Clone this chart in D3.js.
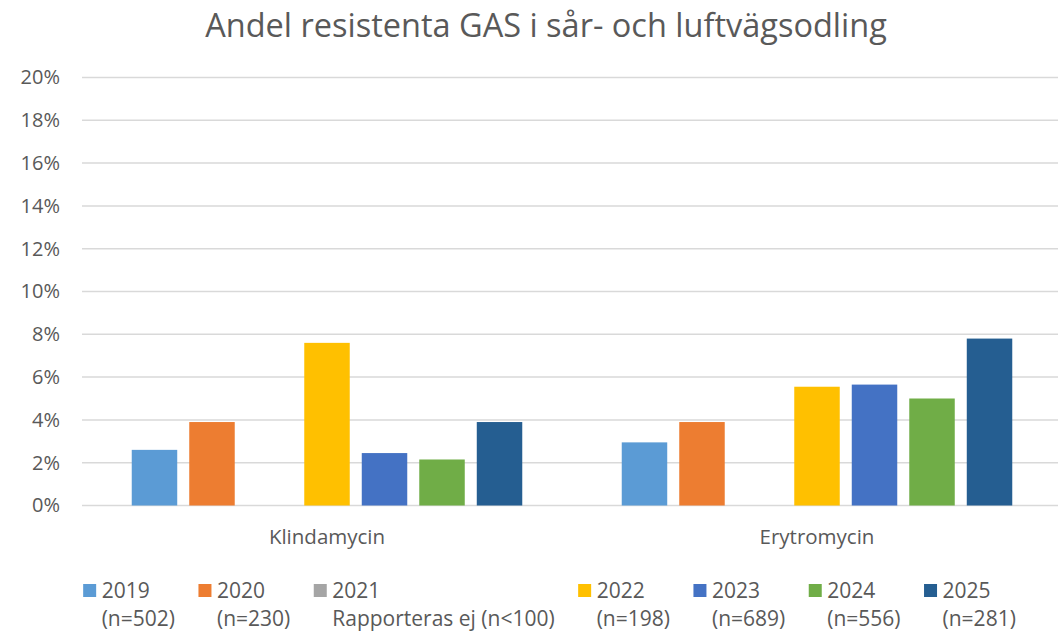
<!DOCTYPE html>
<html>
<head>
<meta charset="utf-8">
<script src="https://cdn.jsdelivr.net/npm/d3@7"></script>
<style>
  body { margin: 0; background: #fff; }
  svg text { font-family: 'Open Sans', sans-serif; fill: #595959; }
</style>
</head>
<body>
<svg id="chart" width="1058" height="635"></svg>
<script>
'use strict'

// Data
var title = 'Andel resistenta GAS i sår- och luftvägsodling'
var categories = ['Klindamycin', 'Erytromycin']
var years = ['2019', '2020', '2021', '2022', '2023', '2024', '2025']
var yearNotes = ['(n=502)', '(n=230)', 'Rapporteras ej (n<100)', '(n=198)', '(n=689)', '(n=556)', '(n=281)']
var klindamycin = [2.6, 3.9, null, 7.6, 2.45, 2.15, 3.9]
var erytromycin = [2.95, 3.9, null, 5.55, 5.65, 5.0, 7.8]
var yTicks = [0, 2, 4, 6, 8, 10, 12, 14, 16, 18, 20]
var colors = ['#5B9BD5', '#ED7D31', '#A5A5A5', '#FFC000', '#4472C4', '#70AD47', '#255E91']

var seriesByCategory = [klindamycin, erytromycin]

var svg = d3.select('#chart')
var plotLeft = 82
var plotRight = 1062
var plotTop = 77.5
var plotBottom = 505.5

var x0 = d3.scaleBand()
  .domain(categories)
  .range([plotLeft, plotRight])

var x1 = d3.scaleBand()
  .domain(years)
  .range([0, x0.bandwidth()])
  .paddingInner(0.209)
  .paddingOuter(0.865)

var y = d3.scaleLinear()
  .domain([0, 20])
  .range([plotBottom, plotTop])

var color = d3.scaleOrdinal().domain(years).range(colors)

// Title
svg.append('text')
  .attr('x', 546)
  .attr('y', 37)
  .attr('text-anchor', 'middle')
  .style('font-size', '32.5px')
  .text(title)

// Gridlines
svg.append('g')
  .selectAll('line')
  .data(yTicks)
  .enter().append('line')
    .attr('x1', plotLeft)
    .attr('x2', plotRight)
    .attr('y1', (d) => y(d))
    .attr('y2', (d) => y(d))
    .attr('stroke', '#D9D9D9')
    .attr('stroke-width', 1.5)

// Y axis labels
var yAxis = svg.append('g')
  .attr('transform', 'translate(' + 60 + ',0)')
  .call(d3.axisLeft(y).tickValues(yTicks).tickSize(0).tickPadding(0).tickFormat((d) => d + '%'))
yAxis.select('.domain').remove()
yAxis.selectAll('text')
  .style('font-size', '20px')
  .attr('fill', '#595959')

// Bars
var groups = svg.append('g')
  .selectAll('g')
  .data(categories)
  .enter().append('g')
    .attr('transform', (d) => 'translate(' + x0(d) + ',0)')

groups.selectAll('rect')
  .data((d, i) => years.map((yr, j) => ({ year: yr, value: seriesByCategory[i][j] })))
  .enter()
  .filter((d) => d.value !== null)
  .append('rect')
    .attr('x', (d) => x1(d.year))
    .attr('width', x1.bandwidth())
    .attr('y', (d) => y(d.value))
    .attr('height', (d) => y(0) - y(d.value))
    .attr('fill', (d) => color(d.year))

// Category labels
svg.append('g')
  .selectAll('text')
  .data(categories)
  .enter().append('text')
    .attr('x', (d) => x0(d) + x0.bandwidth() / 2)
    .attr('y', 544)
    .attr('text-anchor', 'middle')
    .style('font-size', '20.5px')
    .text((d) => d)

// Legend
var legend = svg.append('g')
var items = legend.selectAll('g')
  .data(years)
  .enter().append('g')

items.append('rect')
  .attr('width', 13)
  .attr('height', 13)
  .attr('y', 584)
  .attr('fill', (d) => color(d))

items.append('text')
  .attr('x', 18.5)
  .attr('y', 597.5)
  .style('font-size', '21px')
  .text((d) => d)

items.append('text')
  .attr('x', 18.5)
  .attr('y', 625.5)
  .style('font-size', '21px')
  .text((d, i) => yearNotes[i])

var cursor = 0
items.each(function () {
  var widest = d3.max(d3.select(this).selectAll('text').nodes(), (n) => n.getComputedTextLength())
  d3.select(this).attr('transform', 'translate(' + cursor + ',0)')
  cursor += 18.5 + widest + 23.5
})
var legendWidth = cursor - 23.5
legend.attr('transform', 'translate(' + (549.5 - legendWidth / 2) + ',0)')
</script>
</body>
</html>
